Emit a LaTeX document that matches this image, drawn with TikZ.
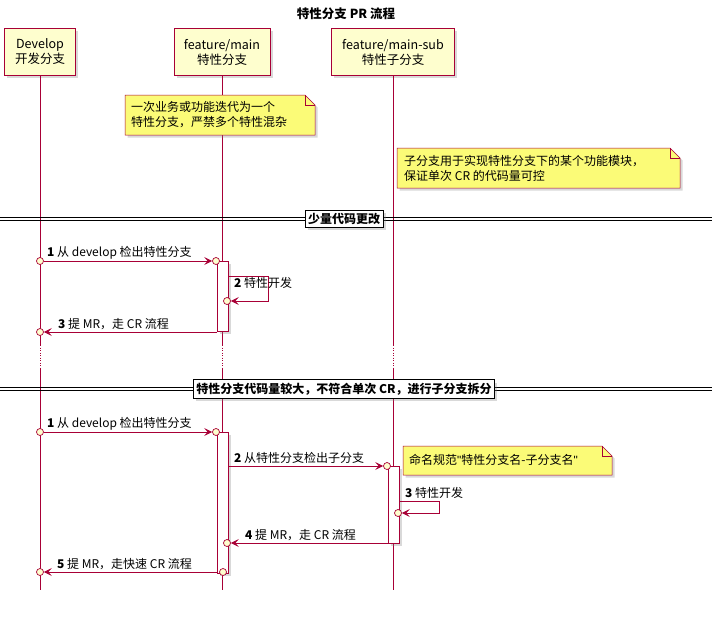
\documentclass[tikz,border=0pt]{standalone}
\usepackage{fontspec}
\setmainfont{Noto Sans CJK SC}
\newfontfamily\latinfont{Liberation Sans}
\usetikzlibrary{arrows.meta,shadows}
\definecolor{umlred}{HTML}{A80036}
\definecolor{umlfill}{HTML}{FEFECE}
\definecolor{notefill}{HTML}{FBFB77}
\newcommand{\sq}{{\latinfont"}}
\tikzset{
  part/.style={draw=umlred, fill=umlfill, line width=1pt, align=center, font=\fontsize{12.5}{15}\selectfont, drop shadow={opacity=0.3}},
  life/.style={umlred, line width=0.5pt},
  act/.style={draw=umlred, fill=white, line width=0.7pt, drop shadow={opacity=0.3}},
  msg/.style={umlred, line width=0.7pt, -{Stealth[length=8pt,width=8pt,inset=3.5pt]}},
  dot/.style={circle, draw=umlred, fill=umlfill, line width=0.7pt, inner sep=0pt, minimum size=7pt},
  lbl/.style={font=\fontsize{12}{15}\selectfont, inner sep=1pt},
  divbox/.style={draw, fill=white, line width=1pt, font=\bfseries\fontsize{12}{14}\selectfont, inner sep=3pt, drop shadow={opacity=0.3}}
}
\begin{document}
\begin{tikzpicture}[x=1pt,y=-1pt]
\useasboundingbox (0,0) rectangle (712,616);
\node[font=\bfseries\fontsize{12.5}{14}\selectfont] (title) at (346,14) {特性分支 PR 流程};

% participants
\node[part, minimum width=71pt, minimum height=47pt] (dev) at (40,52) {Develop\\开发分支};
\node[part, minimum width=96pt, minimum height=47pt] (main) at (222,52) {feature/main\\特性分支};
\node[part, minimum width=123pt, minimum height=47pt] (sub) at (393,52) {feature/main-sub\\特性子分支};

% lifelines
\foreach \x/\n in {40/dev,222/main,393/sub}{
  \draw[life] (\n.south) -- (\x,345);
  \draw[life, dotted] (\x,345) -- (\x,368);
  \draw[life] (\x,368) -- (\x,590);
}

% notes
\fill[notefill, draw=umlred, line width=0.5pt, drop shadow={opacity=0.3}] (125,95) -- (305,95) -- (315,105) -- (315,135) -- (125,135) -- cycle;
\draw[umlred, line width=0.5pt] (305,95) -- (305,105) -- (315,105);
\node[lbl, align=left, anchor=west] (n1) at (130,115) {一次业务或功能迭代为一个\\特性分支，严禁多个特性混杂};
\fill[notefill, draw=umlred, line width=0.5pt, drop shadow={opacity=0.3}] (397,148) -- (670,148) -- (680,158) -- (680,188) -- (397,188) -- cycle;
\draw[umlred, line width=0.5pt] (670,148) -- (670,158) -- (680,158);
\node[lbl, align=left, anchor=west] (n2) at (403,168) {子分支用于实现特性分支下的某个功能模块，\\保证单次 CR 的代码量可控};

% divider 1
\draw[line width=0.6pt] (0,217.5) -- (712,217.5) (0,220.5) -- (712,220.5);
\node[divbox] (d1) at (344,219) {少量代码更改};

% block 1
\filldraw[act] (217,261) rectangle (228,331);
\node[dot] (a1) at (40,261) {};
\node[dot] (b1) at (216,261) {};
\draw[msg] (a1) -- (b1);
\node[lbl, anchor=south west] (l1) at (46,260) {\textbf{1} 从 develop 检出特性分支};
\coordinate (s1) at (228,276);
\node[dot] (c1) at (227,301) {};
\draw[msg] (s1) -- (268,276) -- (268,301) -- (c1);
\node[lbl, anchor=south west] (l2) at (233,290) {\textbf{2} 特性开发};
\coordinate (e1) at (217,332);
\node[dot] (d1a) at (40,332) {};
\draw[msg] (e1) -- (d1a);
\node[lbl, anchor=south west] (l3) at (57,331) {\textbf{3} 提 MR，走 CR 流程};

% divider 2
\draw[line width=0.6pt] (0,387.5) -- (712,387.5) (0,390.5) -- (712,390.5);
\node[divbox] (d2) at (344,389) {特性分支代码量较大，不符合单次 CR，进行子分支拆分};

% block 2
\filldraw[act] (217,432) rectangle (228,573);
\filldraw[act] (388,466) rectangle (399,543);
\node[dot] (a2) at (40,432) {};
\node[dot] (b2) at (216,432) {};
\draw[msg] (a2) -- (b2);
\node[lbl, anchor=south west] (m1) at (46,431) {\textbf{1} 从 develop 检出特性分支};
\coordinate (s2) at (228,466);
\node[dot] (c2) at (387,466) {};
\draw[msg] (s2) -- (c2);
\node[lbl, anchor=south west] (m2) at (233,465) {\textbf{2} 从特性分支检出子分支};
\fill[notefill, draw=umlred, line width=0.5pt, drop shadow={opacity=0.3}] (403,446) -- (602,446) -- (612,456) -- (612,475) -- (403,475) -- cycle;
\draw[umlred, line width=0.5pt] (602,446) -- (602,456) -- (612,456);
\node[lbl, anchor=west] (n3) at (408,460) {命名规范\sq 特性分支名-子分支名\sq};
\coordinate (s3) at (399,501);
\node[dot] (c3) at (398,513) {};
\draw[msg] (s3) -- (439,501) -- (439,513) -- (c3);
\node[lbl, anchor=south west] (m3) at (404,500) {\textbf{3} 特性开发};
\coordinate (s4) at (388,543);
\node[dot] (c4) at (227,543) {};
\draw[msg] (s4) -- (c4);
\node[lbl, anchor=south west] (m4) at (244,542) {\textbf{4} 提 MR，走 CR 流程};
\coordinate (s5) at (217,572);
\node[dot] (c5) at (223,572) {};
\node[dot] (d5) at (40,572) {};
\draw[msg] (s5) -- (d5);
\node[lbl, anchor=south west] (m5) at (56,571) {\textbf{5} 提 MR，走快速 CR 流程};
\end{tikzpicture}
\end{document}
